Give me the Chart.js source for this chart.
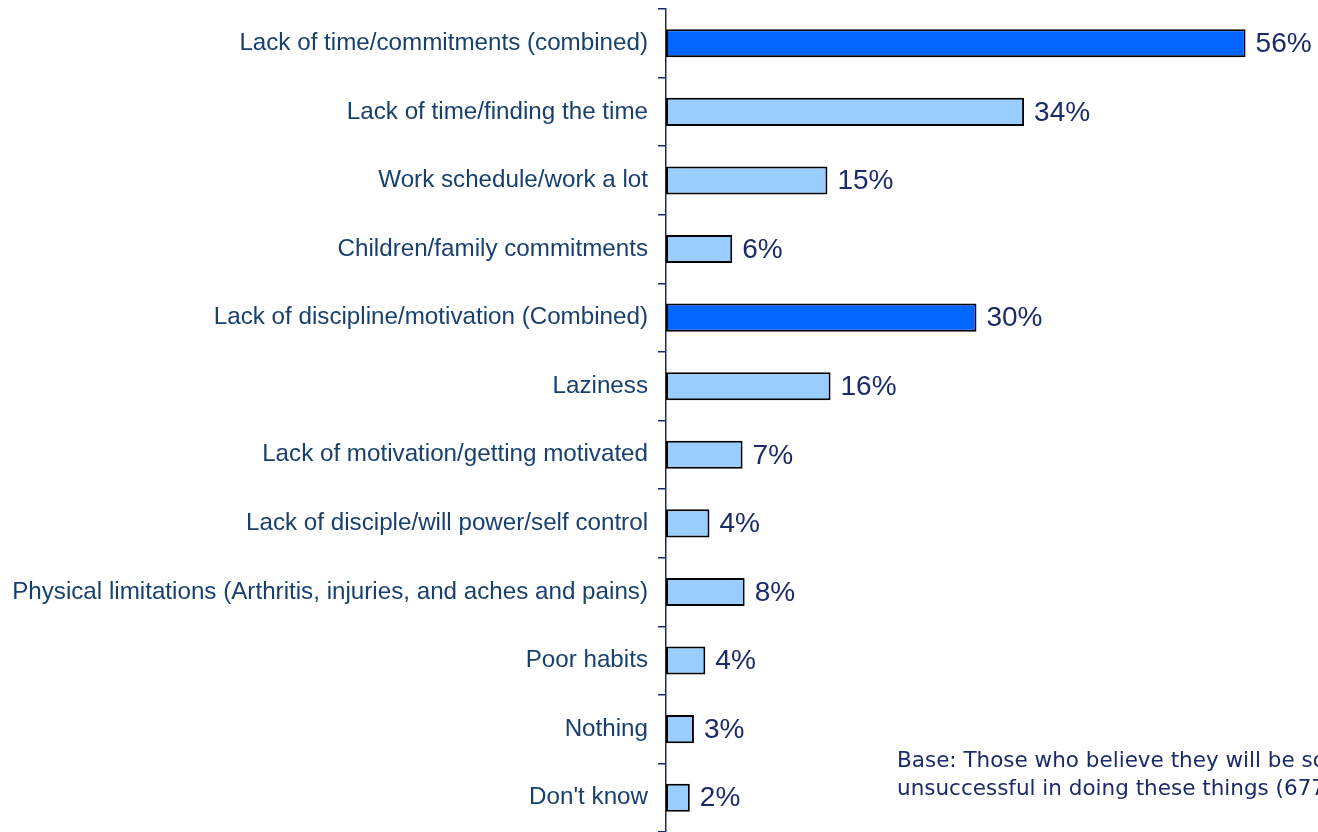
<!DOCTYPE html>
<html>
<head>
<meta charset="utf-8">
<script src="https://cdn.jsdelivr.net/npm/chart.js@4"></script>
<style>
  html, body { margin: 0; padding: 0; background: #fff; }
  #wrap { width: 1318px; height: 832px; position: relative; }
</style>
</head>
<body>
<div id="wrap"><canvas id="chart"></canvas></div>
<script>
const categories = [
  "Lack of time/commitments (combined)",
  "Lack of time/finding the time",
  "Work schedule/work a lot",
  "Children/family commitments",
  "Lack of discipline/motivation (Combined)",
  "Laziness",
  "Lack of motivation/getting motivated",
  "Lack of disciple/will power/self control",
  "Physical limitations (Arthritis, injuries, and aches and pains)",
  "Poor habits",
  "Nothing",
  "Don't know",
];

const values = [56, 34.6, 15.6, 6.4, 30, 15.9, 7.4, 4.2, 7.6, 3.8, 2.7, 2.3];
const valueLabels = ["56%", "34%", "15%", "6%", "30%", "16%", "7%", "4%", "8%", "4%", "3%", "2%"];
const combined = [true, false, false, false, true, false, false, false, false, false, false, false];

const baseNote = [
  "Base: Those who believe they will be somewhat/very",
  "unsuccessful in doing these things (677)",
];

const navy = "#1B2A6B";
const labelBlue = "#17406E";

const valueLabelPlugin = {
  id: "valueLabels",
  afterDatasetsDraw(chart) {
    const { ctx } = chart;
    const meta = chart.getDatasetMeta(0);
    ctx.save();
    ctx.font = "28px 'Liberation Sans', Arial, sans-serif";
    ctx.fillStyle = navy;
    ctx.textAlign = "left";
    ctx.textBaseline = "middle";
    meta.data.forEach((bar, i) => {
      ctx.fillText(valueLabels[i], bar.x + 10, bar.y + 1);
    });
    ctx.restore();
  },
};

const notePlugin = {
  id: "baseNote",
  afterDraw(chart) {
    const { ctx } = chart;
    ctx.save();
    ctx.font = "21.5px 'DejaVu Sans', sans-serif";
    ctx.fillStyle = navy;
    ctx.textBaseline = "alphabetic";
    ctx.fillText(baseNote[0], 897, 767);
    ctx.fillText(baseNote[1], 897, 795);
    ctx.restore();
  },
};

new Chart(document.getElementById("chart"), {
  type: "bar",
  data: {
    labels: categories,
    datasets: [
      {
        data: values,
        backgroundColor: combined.map((c) => (c ? "#0066FF" : "#99CCFF")),
        borderColor: "#000000",
        borderWidth: 2,
        borderSkipped: false,
        barPercentage: 0.41,
        categoryPercentage: 1,
      },
    ],
  },
  options: {
    indexAxis: "y",
    responsive: true,
    maintainAspectRatio: false,
    animation: false,
    layout: { padding: { top: 9, right: 0, bottom: 0, left: 0 } },
    plugins: {
      legend: { display: false },
      tooltip: { enabled: false },
    },
    scales: {
      x: {
        display: false,
        min: 0,
        max: 63,
      },
      y: {
        afterFit(scale) {
          scale.width = 666;
          scale.paddingTop = 0;
          scale.paddingBottom = 0;
        },
        border: { display: true, color: navy, width: 1.5 },
        grid: {
          offset: true,
          drawOnChartArea: false,
          drawTicks: true,
          tickLength: 8,
          color: navy,
          lineWidth: 1.5,
        },
        ticks: {
          color: labelBlue,
          padding: 10,
          font: { family: "'Liberation Sans', Arial, sans-serif", size: 24.2 },
        },
      },
    },
  },
  plugins: [valueLabelPlugin, notePlugin],
});
</script>
</body>
</html>
